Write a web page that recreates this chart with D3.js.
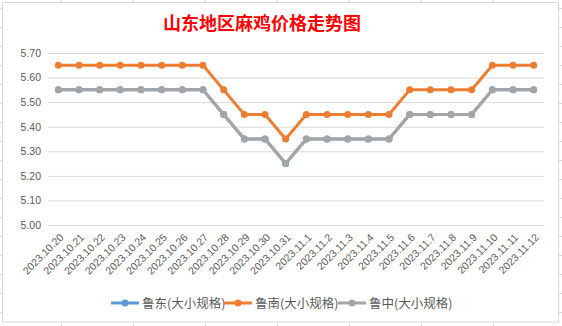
<!DOCTYPE html>
<html><head><meta charset="utf-8">
<script src="https://cdn.jsdelivr.net/npm/d3@7"></script>
<style>body{margin:0;background:#fff}svg{display:block}</style>
</head><body>
<script>
const categories = ["2023.10.20","2023.10.21","2023.10.22","2023.10.23","2023.10.24","2023.10.25","2023.10.26","2023.10.27","2023.10.28","2023.10.29","2023.10.30","2023.10.31","2023.11.1","2023.11.2","2023.11.3","2023.11.4","2023.11.5","2023.11.6","2023.11.7","2023.11.8","2023.11.9","2023.11.10","2023.11.11","2023.11.12"];
const ludong = [5.55,5.55,5.55,5.55,5.55,5.55,5.55,5.55,5.45,5.35,5.35,5.25,5.35,5.35,5.35,5.35,5.35,5.45,5.45,5.45,5.45,5.55,5.55,5.55];
const lunan  = [5.65,5.65,5.65,5.65,5.65,5.65,5.65,5.65,5.55,5.45,5.45,5.35,5.45,5.45,5.45,5.45,5.45,5.55,5.55,5.55,5.55,5.65,5.65,5.65];
const luzhong= [5.55,5.55,5.55,5.55,5.55,5.55,5.55,5.55,5.45,5.35,5.35,5.25,5.35,5.35,5.35,5.35,5.35,5.45,5.45,5.45,5.45,5.55,5.55,5.55];
const yTicks = [5.00,5.10,5.20,5.30,5.40,5.50,5.60,5.70];
const seriesNames = ["鲁东(大小规格)","鲁南(大小规格)","鲁中(大小规格)"];
const seriesColors = ["#5B9BD5","#ED7D31","#A5A5A5"];
const title = "山东地区麻鸡价格走势图";

const W=562,H=326;
const svg=d3.select("body").append("svg").attr("width",W).attr("height",H);
// spreadsheet cell lines visible outside the chart area
const cellX=d3.range(61,562,72), cellY=d3.range(8,326,19);
cellX.forEach(cx=>{
  svg.append("line").attr("x1",cx+0.5).attr("x2",cx+0.5).attr("y1",0).attr("y2",3).attr("stroke","#d9d9d9");
  svg.append("line").attr("x1",cx+0.5).attr("x2",cx+0.5).attr("y1",322).attr("y2",326).attr("stroke","#d9d9d9");
});
cellY.forEach(cy=>{
  svg.append("line").attr("x1",0).attr("x2",3).attr("y1",cy+0.5).attr("y2",cy+0.5).attr("stroke","#d9d9d9");
  svg.append("line").attr("x1",559).attr("x2",562).attr("y1",cy+0.5).attr("y2",cy+0.5).attr("stroke","#d9d9d9");
});
svg.append("rect").attr("x",2.5).attr("y",2.5).attr("width",556).attr("height",319.5)
  .attr("fill","#fff").attr("stroke","#d9d9d9").attr("stroke-width",1);

const x=d3.scaleBand().domain(categories).range([48,544]);
const y=d3.scaleLinear().domain([5.0,5.7]).range([225,53]);

svg.append("text").attr("x",262).attr("y",30).attr("text-anchor","middle")
  .attr("fill","#FF0000").attr("font-size",18).attr("font-weight","bold")
  .attr("font-family","'Noto Sans CJK SC',sans-serif").text(title);

const ya=svg.append("g").attr("transform","translate(48,0)")
  .call(d3.axisLeft(y).tickValues(yTicks).tickSize(-496).tickFormat(d3.format(".2f")));
ya.select(".domain").remove();
ya.selectAll(".tick line").attr("stroke","#d9d9d9").attr("stroke-width",1);
ya.selectAll(".tick text").attr("x",-7).attr("fill","#595959").attr("font-size",10.5)
  .attr("font-family","'Liberation Sans',Arial,sans-serif");

const xa=svg.append("g").attr("transform","translate(0,225)")
  .call(d3.axisBottom(x).tickSize(0));
xa.select(".domain").attr("stroke","#d9d9d9");
xa.selectAll(".tick text").attr("fill","#595959").attr("font-size",10.5)
  .attr("font-family","'Liberation Sans',Arial,sans-serif")
  .attr("text-anchor","end").attr("dy",0).attr("y",0)
  .attr("transform","translate(6,13) rotate(-45)");

const allSeries=[ludong,lunan,luzhong];
const line=d3.line().x((d,i)=>x(categories[i])+x.bandwidth()/2).y(d=>y(d));
allSeries.forEach((vals,k)=>{
  const g=svg.append("g");
  g.append("path").datum(vals).attr("d",line).attr("fill","none")
   .attr("stroke",seriesColors[k]).attr("stroke-width",3).attr("stroke-linejoin","round");
  g.selectAll("circle").data(vals).join("circle")
   .attr("cx",(d,i)=>x(categories[i])+x.bandwidth()/2).attr("cy",d=>y(d)).attr("r",3.5)
   .attr("fill",seriesColors[k]);
});

// legend
const legX=[111,224,338];
seriesNames.forEach((n,k)=>{
  const g=svg.append("g").attr("transform",`translate(${legX[k]},303)`);
  g.append("line").attr("x1",0).attr("x2",28).attr("stroke",seriesColors[k]).attr("stroke-width",3);
  g.append("circle").attr("cx",14).attr("r",3.5).attr("fill",seriesColors[k]);
  g.append("text").attr("x",31).attr("dy","0.36em").attr("fill","#595959").attr("font-size",12.5)
   .attr("font-family","'Noto Sans CJK SC',sans-serif").text(n);
});
</script>
</body></html>
